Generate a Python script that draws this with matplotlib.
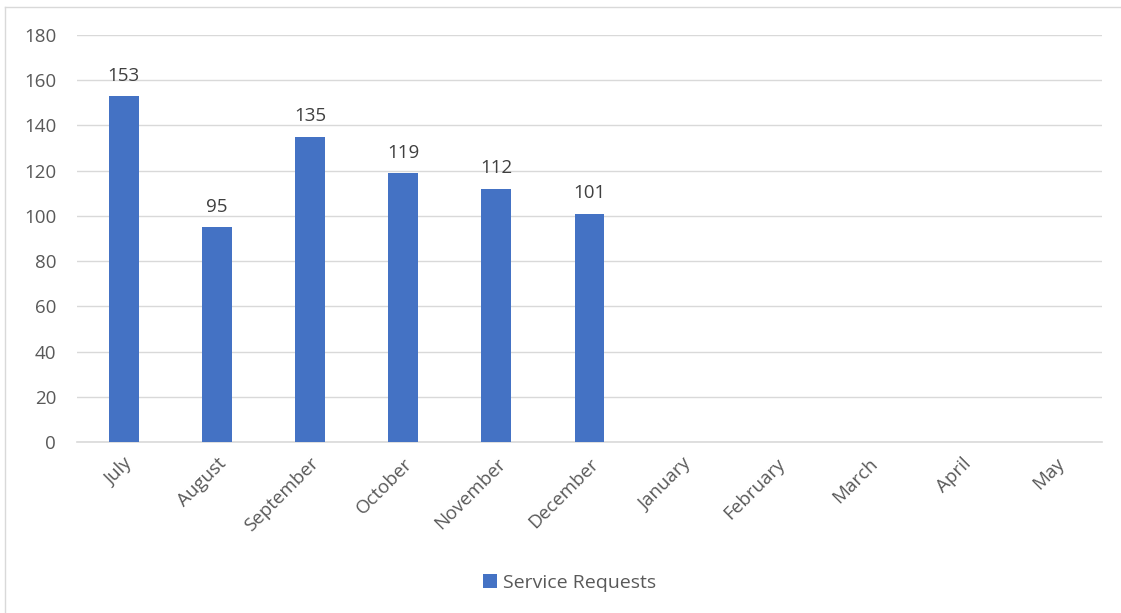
import matplotlib.pyplot as plt
from matplotlib.lines import Line2D
import numpy as np

months = ['July', 'August', 'September', 'October', 'November', 'December',
          'January', 'February', 'March', 'April', 'May']
requests = [153, 95, 135, 119, 112, 101]

plt.rcParams['font.family'] = ['Open Sans', 'DejaVu Sans']
gray = '#595959'
blue = '#4472c4'

fig = plt.figure(figsize=(11.21, 6.13), dpi=100)
ax = fig.add_axes([0.0687, 0.279, 0.9143, 0.664])

x = np.arange(len(months))
bars = ax.bar(x[:len(requests)], requests, 0.32, color=blue, zorder=3,
              label='Service Requests')
for b in bars:
    ax.text(b.get_x() + b.get_width() / 2, b.get_height() + 5, '%d' % b.get_height(),
            ha='center', va='bottom', fontsize=13.5, color='#404040')

ax.set_xlim(-0.5, len(months) - 0.5)
ax.set_ylim(0, 180)
ax.set_yticks(range(0, 181, 20))
ax.set_xticks(x)
ax.set_xticklabels(months, rotation=45, ha='right', rotation_mode='anchor')
ax.tick_params(axis='both', length=0, labelsize=13.5, labelcolor=gray)
ax.tick_params(axis='x', pad=9)
ax.tick_params(axis='y', pad=15)
ax.grid(axis='y', color='#d9d9d9', linewidth=1, zorder=0)
for s in ['top', 'right', 'left']:
    ax.spines[s].set_visible(False)
ax.spines['bottom'].set_color('#d9d9d9')
ax.spines['bottom'].set_linewidth(1.2)

fig.legend(handles=[bars], labels=['Service Requests'], loc='center',
           bbox_to_anchor=(0.508, 0.049), frameon=False, fontsize=14,
           labelcolor=gray, handlelength=0.7, handleheight=0.7, handletextpad=0.3)

# outer chart border (left and top visible)
fig.add_artist(Line2D([0.0045, 0.0045], [0, 0.989], color='#d9d9d9', lw=1))
fig.add_artist(Line2D([0.0045, 1], [0.989, 0.989], color='#d9d9d9', lw=1))

fig.savefig('out.png', dpi=100)
